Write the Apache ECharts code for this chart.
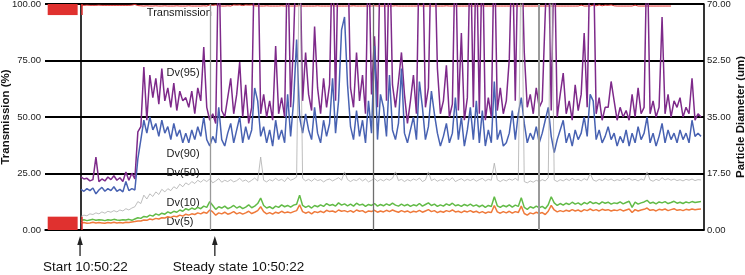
<!DOCTYPE html>
<html><head><meta charset="utf-8">
<script src="https://cdn.jsdelivr.net/npm/echarts@6/dist/echarts.min.js"></script>
<style>html,body{margin:0;padding:0;background:#fff}#c{width:745px;height:275px}</style>
</head><body><div id="c"></div>
<script>
// ---- data (sample index i; time axis, 1 sample per step) ----
const transmission = [
99.4,99.4,99.5,99.4,99.4,99.4,99.5,99.4,99.4,99.4, 99.4,99.4,99.4,99.4,99.4,99.4,99.4,99.5,99.8,99.3,
99.2,99.1,99.2,99.1,99.1,99.2,99.1,99.1,99.2,99.1, 99.1,99.1,99.2,99.1,99.1,99.1,99.2,99.1,99.1,99.1,
99.1,99.2,99.1,99.6,99.4,99.6,99.2,99.1,99.1,99.2, 99.1,99.6,99.5,99.6,99.3,99.6,99.5,99.6,99.2,99.1,
99.1,99.1,99.2,99.1,99.1,99.1,99.1,99.2,99.1,99.1, 99.1,99.1,99.1,99.2,99.1,99.1,99.1,99.1,99.1,99.2,
99.1,99.1,99.1,99.1,99.2,99.1,99.1,99.1,99.1,99.1, 99.1,99.2,99.1,99.1,99.1,99.1,99.1,99.1,99.2,99.1,
99.1,99.1,99.1,99.1,99.1,99.2,99.1,99.1,99.1,99.1, 99.1,99.1,99.1,99.2,99.1,99.1,99.1,99.1,99.1,99.1,
99.1,99.1,99.2,99.1,99.1,99.1,99.1,99.1,99.1,99.1, 99.1,99.1,99.1,99.1,99.2,99.1,99.1,99.1,99.1,99.1,
99.1,99.1,99.1,99.1,99.1,99.1,99.1,99.1,99.1,99.1, 99.1,99.1,99.1,99.1,99.1,99.1,99.1,99.1,99.1,99.1,
99.1,99.1,99.1,99.1,99.1,99.1,99.1,99.5,99.1,99.1, 99.1,99.5,99.2,99.6,99.2,99.5,99.4,99.6,99.2,99.1,
99.1,99.1,99.1,99.1,99.1,99.5,99.1,99.1,99.1,99.1, 99.1,99.1,99.1,99.1,99.1,99.1,99.1,99.1
];
const dv95 = [
16.5,15.8,16.0,15.2,15.6,22.6,15.0,15.8,15.2,16.4, 15.6,16.8,15.4,16.2,15.0,18.0,15.4,17.6,15.8,30.4,
32,50.5,34,48,41,47,39,50,40,44, 38,45.5,37,43,40,41,38,43,36,44,
40,56.7,38,34,36,33,90,37,35,41, 47,36,42,52,35,45,33,38,90,90,
36,42,35,40,34,57,36,41,35,90, 38,59,90,90,40,55,42,37,63,44,
36,47,38,45,90,40,90,90,90,90, 44,38,55,40,48,36,90,42,60,38,
90,90,40,90,45,38,46,55,42,33, 40,48,36,90,90,38,44,90,90,50,
36,40,51,35,39,90,37,61,34,41, 90,38,90,36,90,34,41,35,90,37,
44,36,40,53,90,40,90,90,55,38, 42,36,44,38,40,67,90,37,90,35,
42,48.6,36,40,34,45,37,42,61,38, 90,90,36,41,34,38,38,46,40,34,
38,35,37,34,42,35,44,36,38,90, 36,40,35,38,66,36,42,35,40,38,
41,35,38,36,47,34,36,35
];
const dv90 = [
12.6,12.0,12.8,12.2,13.0,11.2,12.4,13.2,12.0,12.8, 12.2,13.4,12.0,12.6,11.8,15.0,12.2,12.8,12.4,22,
28,34,30,35,31,33,29,34,30,32, 28,33,29,31,27,30,27,31,28,32,
29,35,28,26,29,27,38,28,26,30, 33,27,31,35,27,32,28,31,44,40,
29,32,27,31,26,34,28,31,27,42, 29,40,59,35,30,36,31,28,38,30,
27,34,29,33,47,30,40,62,66,45, 32,28,37,29,34,27,40,30,57,28,
42,38,29,48,31,28,33,50,30,27, 31,35,28,46,38,28,32,43,36,30,
26,29,33,27,30,41,28,35,26,31, 38,28,40,27,37,26,31,27,46,28,
31,26,27,30,37,28,36,41,33,27, 30,28,32,27,30,34,38,29,24,28,
31,34,27,30,26,31,28,30,35,29, 42,40,28,31,27,29,32,28,30,26,
29,27,31,26,30,27,32,28,30,35, 27,30,26,29,33,27,31,28,30,27,
31,28,30,27,34,29,30,29
];
const dv50 = [
4.2,4.6,4.4,5.0,4.8,5.3,5.0,5.6,5.2,5.8, 5.5,6.0,5.6,6.2,5.9,6.6,6.2,6.8,7.2,8.8,
8.2,10.8,9.6,11.2,10.4,11.8,11.0,12.6,11.8,12.8, 12.2,13.4,12.8,14.2,13.4,14.6,14.0,15.0,14.4,15.4,
14.8,15.6,15.0,15.8,14.6,15.2,15.9,14.8,15.4,15.0, 15.6,14.9,15.3,16.0,15.1,15.5,14.8,15.4,16.1,15.2,
22.6,15.4,14.9,15.6,15.2,16.0,15.3,15.7,15.0,16.2, 15.4,15.8,16.4,90,16.0,15.2,15.7,15.1,15.9,15.3,
15.6,14.9,15.5,15.8,15.2,15.7,16.2,15.4,18.0,15.6, 15.0,15.6,15.3,16.0,15.2,15.8,14.9,15.4,15.9,15.1,
15.7,15.2,15.8,15.4,16.0,18.0,15.3,15.7,15.0,15.6, 15.2,15.8,15.4,16.1,15.0,15.5,18.0,15.3,15.8,15.1,
15.6,15.2,15.9,15.4,16.2,15.0,15.5,15.9,15.2,15.7, 15.3,15.8,15.1,15.6,16.0,15.2,15.7,15.4,20.7,15.5,
15.0,15.6,15.2,15.8,15.4,16.0,15.3,90,15.0,14.6, 15.2,14.8,15.4,15.0,15.6,15.2,16.2,90,15.5,15.0,
15.6,15.2,15.8,15.3,16.0,15.4,15.7,15.2,15.9,15.4, 17.5,15.5,15.1,15.7,15.3,15.9,15.4,15.8,15.2,15.6,
15.3,15.9,15.5,16.0,15.4,15.7,15.2,15.8,15.4,18.0, 15.5,15.1,15.7,15.3,16.2,15.5,15.9,15.4,15.8,15.3,
15.6,15.2,15.7,15.4,15.8,15.3,15.6,15.5
];
const dv10 = [
3.0,3.2,2.9,3.1,3.3,3.0,3.2,3.1,2.9,3.2, 3.0,3.3,3.1,3.0,3.2,3.1,3.3,3.0,3.4,3.8,
3.6,4.2,4.0,4.6,4.3,5.0,4.6,5.2,4.9,5.6, 5.2,5.8,5.5,6.2,5.8,6.6,6.2,6.8,6.4,7.0,
6.6,7.4,7.0,8.8,7.6,6.4,7.2,6.8,7.4,6.6, 7.0,7.6,6.8,7.3,6.6,7.1,7.8,6.9,7.4,8.2,
9.9,7.6,6.8,7.2,6.6,7.4,7.0,7.8,7.2,7.6, 7.1,7.7,8.0,10.8,7.6,7.0,7.5,6.8,7.6,7.2,
7.8,7.3,8.2,7.6,7.9,7.4,8.4,7.7,8.1,7.5, 8.0,7.4,8.3,7.7,8.0,7.3,7.9,7.6,8.2,7.4,
7.9,7.5,8.1,7.6,8.3,7.7,7.4,8.0,7.5,7.9, 7.3,7.8,7.5,8.2,7.4,7.9,8.4,7.6,8.0,7.3,
7.8,7.4,8.1,7.6,8.3,7.5,7.8,7.3,7.9,7.5, 8.0,7.4,7.8,7.2,7.7,7.0,7.6,7.3,10.3,7.5,
7.0,7.6,7.2,7.8,7.1,7.7,7.3,10.0,7.0,6.4, 7.2,6.8,7.4,6.9,7.3,6.6,7.8,10.3,8.4,7.6,
8.2,7.7,8.3,7.9,8.6,8.0,8.4,7.8,8.5,8.1, 8.8,8.2,8.5,8.0,8.7,8.3,8.6,8.0,8.4,8.2,
8.7,8.1,8.5,8.9,7.0,8.6,8.0,8.4,8.7,9.2, 8.3,8.6,8.1,8.7,8.4,8.8,8.2,8.5,8.9,8.3,
8.6,8.2,8.7,8.4,8.8,8.5,8.7,8.8
];
const dv5 = [
2.2,2.3,2.1,2.2,2.4,2.2,2.3,2.2,2.1,2.3, 2.2,2.4,2.2,2.3,2.2,2.4,2.3,2.5,2.6,2.8,
2.8,3.1,3.0,3.4,3.2,3.6,3.4,3.8,3.7,4.1, 3.9,4.3,4.1,4.6,4.3,4.9,4.6,5.0,4.8,5.3,
5.0,5.5,5.2,6.2,5.6,4.6,5.3,5.0,5.5,4.9, 5.2,5.7,5.0,5.4,4.9,5.3,5.8,5.1,5.5,6.0,
7.2,5.7,5.0,5.4,4.9,5.5,5.2,5.8,5.3,5.6, 5.3,5.7,6.0,7.8,5.7,5.2,5.6,5.0,5.7,5.4,
5.8,5.4,6.1,5.7,5.9,5.5,6.2,5.8,6.0,5.6, 6.0,5.5,6.2,5.8,6.0,5.4,5.9,5.7,6.1,5.5,
5.9,5.6,6.1,5.7,6.2,5.8,5.5,6.0,5.6,5.9, 5.4,5.8,5.6,6.1,5.5,5.9,6.3,5.7,6.0,5.4,
5.8,5.5,6.0,5.7,6.2,5.6,5.8,5.4,5.9,5.6, 6.0,5.5,5.8,5.3,5.7,5.2,5.6,5.4,7.6,5.6,
5.2,5.7,5.3,5.8,5.2,5.7,5.4,7.4,5.1,4.6, 5.3,5.0,5.5,5.1,5.4,4.8,5.8,7.6,6.2,5.6,
6.0,5.7,6.1,5.8,6.3,5.9,6.2,5.7,6.3,6.0, 6.5,6.0,6.3,5.9,6.4,6.1,6.3,5.9,6.2,6.0,
6.4,5.9,6.2,6.5,5.4,6.3,5.9,6.2,6.4,6.8, 6.1,6.3,5.9,6.4,6.2,6.5,6.0,6.3,6.6,6.1,
6.3,6.0,6.4,6.2,6.5,6.3,6.4,6.5
];
const leftTicks = [0, 25, 50, 75, 100];
const rightTicks = [0, 17.5, 35, 52.5, 70];
const eventMarks = [43, 97.7, 152.7];          // vertical event lines (sample index)
const startIdx = -0.3, steadyIdx = 44.7;        // annotation positions (sample index)
const seriesLabels = [
  ['Transmission', 22, 95.9, 0],
  ['Dv(95)', 28.6, 48.6, 1],
  ['Dv(90)', 28.6, 23.7, 1],
  ['Dv(50)', 28.6, 17.6, 1],
  ['Dv(10)', 28.6, 8.5, 1],
  ['Dv(5)', 28.6, 2.4, 1]
];

const FONT = '"Liberation Sans", Arial, Helvetica, sans-serif';
const xy = a => a.map((v, i) => [i, v]);
const chart = echarts.init(document.getElementById('c'), null, {renderer: 'canvas'});

const lineS = (name, data, yIdx, color, w, extra) => Object.assign({
  name, type: 'line', yAxisIndex: yIdx, data: xy(data), showSymbol: false, symbol: 'none',
  lineStyle: {color, width: w}, itemStyle: {color}, animation: false, silent: true, clip: true
}, extra || {});

const option = {
  animation: false,
  textStyle: {fontFamily: FONT},
  grid: {left: 45, right: 41, top: 4, bottom: 45, containLabel: false, outerBoundsMode: 'none'},
  xAxis: {type: 'value', min: -12, max: 208, axisLabel: {show: false}, axisTick: {show: false},
    splitLine: {show: false}, axisLine: {show: true, lineStyle: {color: '#000', width: 1.6}}},
  yAxis: [
    {type: 'value', min: 0, max: 100, interval: 25, position: 'left',
      name: 'Transmission (%)', nameLocation: 'middle', nameGap: 33, nameRotate: 90, nameMoveOverlap: false,
      nameTextStyle: {fontFamily: FONT, fontWeight: 'bold', fontSize: 11.5, color: '#111'},
      axisLine: {show: true, lineStyle: {color: '#000', width: 1.6}}, axisTick: {show: false},
      axisLabel: {fontFamily: FONT, fontSize: 9.5, color: '#222', margin: 4, formatter: v => v.toFixed(2)},
      splitLine: {show: true, lineStyle: {color: '#000', width: 2}}},
    {type: 'value', min: 0, max: 70, interval: 17.5, position: 'right',
      name: 'Particle Diameter (um)', nameLocation: 'middle', nameGap: 31, nameRotate: 90, nameMoveOverlap: false,
      nameTextStyle: {fontFamily: FONT, fontWeight: 'bold', fontSize: 11.5, color: '#111'},
      axisLine: {show: true, lineStyle: {color: '#000', width: 1.6}}, axisTick: {show: false},
      axisLabel: {fontFamily: FONT, fontSize: 9.5, color: '#222', margin: 3, formatter: v => v.toFixed(2)},
      splitLine: {show: false}}
  ],
  series: [
    lineS('Transmission', transmission, 0, '#e0312f', 1, {
      markArea: {silent: true, itemStyle: {color: '#e0312f'}, data: [
        [{coord: [-11.1, 95.1]}, {coord: [-1.1, 100]}],
        [{coord: [-11.1, 0]}, {coord: [-1.1, 5.9]}]
      ]},
      markLine: {silent: true, symbol: 'none', label: {show: false}, animation: false, data: [
        [{coord: [0.2, 95.1], lineStyle: {color: '#e0312f', width: 1.5, type: 'solid'}}, {coord: [0.2, 100]}],
        [{coord: [0.2, 0], lineStyle: {color: '#e0312f', width: 1.5, type: 'solid'}}, {coord: [0.2, 5.9]}],
        {xAxis: eventMarks[0], lineStyle: {color: '#9a9a9a', width: 1.3, type: 'solid'}},
        {xAxis: eventMarks[1], lineStyle: {color: '#6e6e6e', width: 1.3, type: 'solid'}},
        {xAxis: eventMarks[2], lineStyle: {color: '#9a9a9a', width: 2, type: 'solid'}}
      ]}
    }),
    lineS('Dv(95)', dv95, 1, '#7e2a8a', 1.5),
    lineS('Dv(90)', dv90, 1, '#4862b2', 1.5),
    lineS('Dv(50)', dv50, 1, '#adadad', 0.8),
    lineS('Dv(10)', dv10, 1, '#62bb47', 1.5),
    lineS('Dv(5)', dv5, 1, '#ef7a3b', 1.5)
  ]
};
chart.setOption(option);

// annotations placed through the axes' own scales
const px = i => chart.convertToPixel({xAxisIndex: 0}, i);
const py = (v, a) => chart.convertToPixel({yAxisIndex: a}, v);
const g = [];
seriesLabels.forEach(([t, i, v, a]) => {
  g.push({type: 'text', x: px(i), y: py(v, a), silent: true,
    style: {text: t, fontFamily: FONT, fontSize: 11, fill: '#1a1a1a', verticalAlign: 'middle', align: 'left'}});
});
const arrow = (x, label, lx) => {
  g.push({type: 'line', silent: true, shape: {x1: x, y1: 243, x2: x, y2: 256}, style: {stroke: '#222', lineWidth: 1.3}});
  g.push({type: 'polygon', silent: true, shape: {points: [[x, 236], [x - 2.8, 245], [x + 2.8, 245]]}, style: {fill: '#222'}});
  g.push({type: 'text', silent: true, x: lx, y: 267.5,
    style: {text: label, fontFamily: FONT, fontSize: 13.5, fill: '#111', verticalAlign: 'middle', align: 'left'}});
};
const sx = px(startIdx), tx = px(steadyIdx);
arrow(sx, 'Start 10:50:22', sx - 37);
arrow(tx, 'Steady state 10:50:22', tx - 42);
chart.setOption({graphic: g});
</script>
</body></html>
